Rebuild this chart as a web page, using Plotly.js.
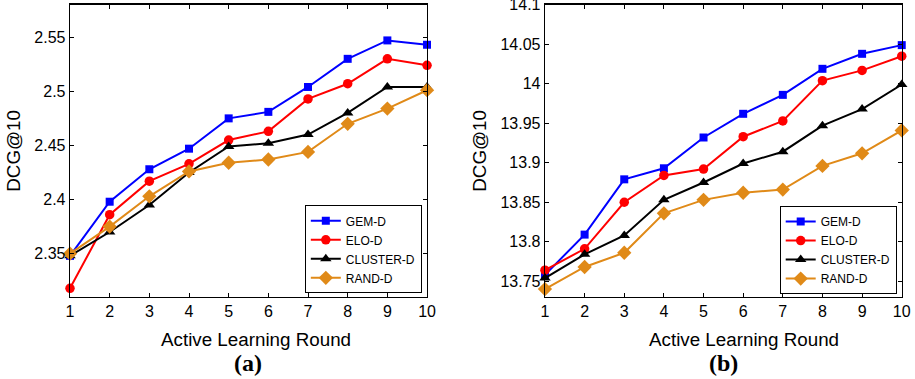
<!DOCTYPE html>
<html>
<head>
<meta charset="utf-8">
<script src="https://cdn.plot.ly/plotly-3.0.1.min.js"></script>
<style>
  html, body { margin: 0; padding: 0; background: #fff; }
  #chart { width: 915px; height: 379px; }
</style>
</head>
<body>
<div id="chart"></div>
<script>
// Active learning rounds (shared x values)
const rounds = [1, 2, 3, 4, 5, 6, 7, 8, 9, 10];

// Panel (a): DCG@10 per round
const gemA     = [2.348, 2.398, 2.428, 2.447, 2.475, 2.481, 2.504, 2.530, 2.547, 2.543];
const eloA     = [2.318, 2.386, 2.417, 2.433, 2.455, 2.463, 2.493, 2.507, 2.530, 2.524];
const clusterA = [2.348, 2.370, 2.395, 2.425, 2.449, 2.452, 2.460, 2.480, 2.504, 2.504];
const randA    = [2.350, 2.375, 2.403, 2.426, 2.434, 2.437, 2.444, 2.470, 2.484, 2.501];

// Panel (b): DCG@10 per round
const gemB     = [13.758, 13.809, 13.879, 13.893, 13.932, 13.962, 13.986, 14.019, 14.038, 14.049];
const eloB     = [13.764, 13.791, 13.850, 13.884, 13.892, 13.933, 13.953, 14.004, 14.017, 14.035];
const clusterB = [13.754, 13.784, 13.808, 13.853, 13.875, 13.899, 13.914, 13.947, 13.968, 13.999];
const randB    = [13.740, 13.768, 13.786, 13.836, 13.853, 13.862, 13.866, 13.896, 13.912, 13.941];

// Tick labels
const xTicks = ['1', '2', '3', '4', '5', '6', '7', '8', '9', '10'];
const yTickValsA = [2.35, 2.4, 2.45, 2.5, 2.55];
const yTickTextA = ['2.35', '2.4', '2.45', '2.5', '2.55'];
const yTickValsB = [13.75, 13.8, 13.85, 13.9, 13.95, 14, 14.05, 14.1];
const yTickTextB = ['13.75', '13.8', '13.85', '13.9', '13.95', '14', '14.05', '14.1'];

const seriesNames = ['GEM-D', 'ELO-D', 'CLUSTER-D', 'RAND-D'];
const xTitle = 'Active Learning Round';
const yTitle = 'DCG@10';

const styles = [
  { color: '#0000ff', symbol: 'square',        size: 8 },
  { color: '#ff0000', symbol: 'circle',        size: 9.5 },
  { color: '#000000', symbol: 'triangle-up',   size: 10 },
  { color: '#e08a18', symbol: 'diamond',       size: 11 }
];

function makeTraces(dataSets, xa, ya, legendId) {
  return dataSets.map((ys, i) => ({
    type: 'scatter',
    mode: 'lines+markers',
    name: seriesNames[i],
    x: rounds,
    y: ys,
    xaxis: xa,
    yaxis: ya,
    legend: legendId,
    line: { color: styles[i].color, width: 2 },
    marker: { color: styles[i].color, symbol: styles[i].symbol, size: styles[i].size,
              line: { width: 0 } },
    cliponaxis: false
  }));
}

const traces = [
  ...makeTraces([gemA, eloA, clusterA, randA], 'x', 'y', 'legend'),
  ...makeTraces([gemB, eloB, clusterB, randB], 'x2', 'y2', 'legend2')
];

const sans = 'Liberation Sans, Arial, sans-serif';
const tickFont = { family: sans, size: 16, color: '#000' };
const titleFont = { family: sans, size: 18.8, color: '#000' };

function xAxis(domain, anchor) {
  return {
    domain: domain, anchor: anchor,
    range: [1, 10],
    tickvals: rounds, ticktext: xTicks,
    ticks: 'inside', ticklen: 4, tickwidth: 1, tickcolor: '#000',
    showline: true, linecolor: '#000', linewidth: 1.3, mirror: 'ticks',
    showgrid: false, zeroline: false,
    tickfont: tickFont, ticklabeloverflow: 'allow'
  };
}

function yAxis(domain, anchor, range, vals, text) {
  return {
    domain: domain, anchor: anchor,
    range: range,
    tickvals: vals, ticktext: text,
    ticks: 'inside', ticklen: 4, tickwidth: 1, tickcolor: '#000',
    showline: true, linecolor: '#000', linewidth: 1.3, mirror: 'ticks',
    showgrid: false, zeroline: false,
    tickfont: tickFont, ticklabeloverflow: 'allow',
    title: { text: yTitle, font: titleFont, standoff: 8 }
  };
}

const legendBase = {
  bgcolor: '#fff', bordercolor: '#000', borderwidth: 1,
  font: { family: sans, size: 12, color: '#000' },
  xanchor: 'right', yanchor: 'bottom',
  tracegroupgap: 0, itemwidth: 30
};

// Text labels placed below each panel: the x-axis title and the panel tag
function panelText(text, xPx, yPx, font) {
  return { text: text, xref: 'paper', yref: 'paper', x: xPx / 915, y: (379 - yPx) / 379,
           showarrow: false, xanchor: 'center', yanchor: 'middle', font: font };
}
const tagFont = { family: 'Liberation Serif, Times New Roman, serif', size: 24, color: '#000' };

const layout = {
  width: 915, height: 379,
  margin: { l: 0, r: 0, t: 0, b: 0 },
  paper_bgcolor: '#fff', plot_bgcolor: '#fff',
  xaxis:  xAxis([0.0765, 0.4667], 'y'),
  yaxis:  yAxis([0.2164, 0.9876], 'x', [2.31, 2.58], yTickValsA, yTickTextA),
  xaxis2: xAxis([0.5956, 0.9855], 'y2'),
  yaxis2: yAxis([0.2164, 0.9876], 'x2', [13.73, 14.1002], yTickValsB, yTickTextB),
  legend:  Object.assign({}, legendBase, { x: 0.461, y: 0.226 }),
  legend2: Object.assign({}, legendBase, { x: 0.980, y: 0.224 }),
  annotations: [
    panelText(xTitle, 255.7, 339, titleFont),
    panelText(xTitle, 744, 339, titleFont),
    panelText('<b>(a)</b>', 247.5, 363, tagFont),
    panelText('<b>(b)</b>', 723.5, 363, tagFont)
  ],
  showlegend: true
};

Plotly.newPlot('chart', traces, layout, { staticPlot: true, displayModeBar: false });
</script>
</body>
</html>
